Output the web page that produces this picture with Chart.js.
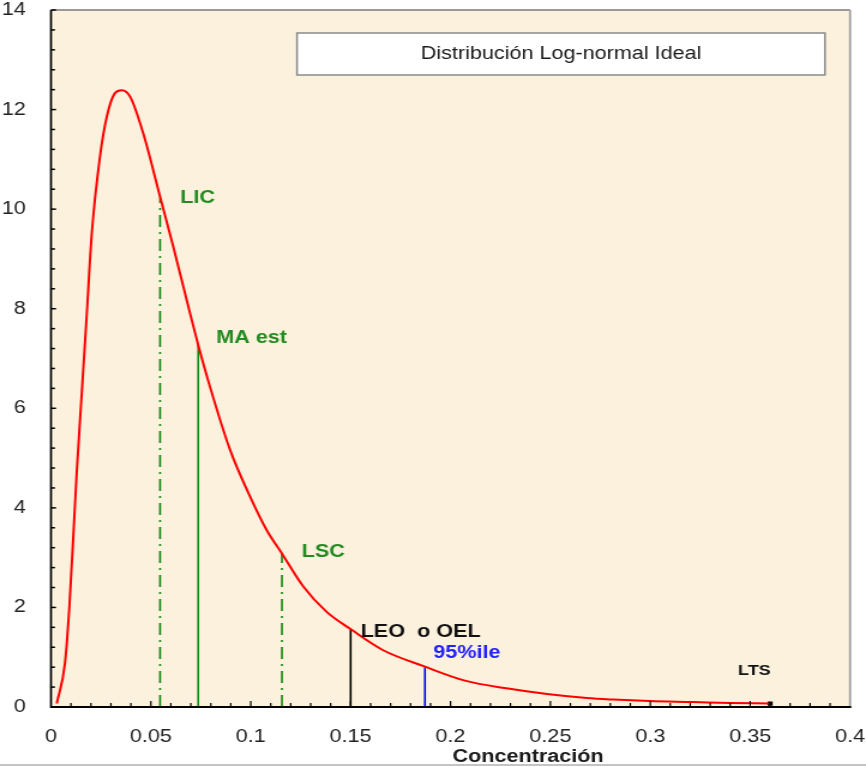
<!DOCTYPE html>
<html><head><meta charset="utf-8">
<script src="https://cdn.jsdelivr.net/npm/chart.js@4.4.1/dist/chart.umd.min.js"></script>
<style>
html,body{margin:0;padding:0;background:#fff;overflow:hidden;width:866px;height:767px;}
#wrap{position:absolute;left:0;top:0;width:722px;height:767px;transform:scaleX(1.19945);transform-origin:0 0;}
</style></head><body>
<div id="wrap"><canvas id="c"></canvas></div>
<script>
// ---- data ----
const curveX = [0.0029, 0.0070, 0.0092, 0.0112, 0.0129, 0.0154, 0.0179, 0.0204, 0.0245, 0.0279, 0.0320, 0.0354, 0.0396, 0.0462, 0.0546, 0.0612, 0.0696, 0.0737, 0.0796, 0.0896, 0.0996, 0.1080, 0.1155, 0.1263, 0.1380, 0.1505, 0.1663, 0.1872, 0.2072, 0.2288, 0.2483, 0.2683, 0.2813, 0.2998, 0.3214, 0.3400, 0.3594];
const curveY = [0.07, 0.88, 2.01, 3.45, 4.72, 6.30, 7.88, 9.50, 11.05, 11.85, 12.33, 12.39, 12.26, 11.52, 10.25, 9.25, 7.91, 7.27, 6.43, 5.17, 4.23, 3.55, 3.09, 2.42, 1.91, 1.55, 1.14, 0.81, 0.53, 0.37, 0.26, 0.18, 0.15, 0.12, 0.10, 0.08, 0.07];
const markerNames = ['LIC', 'MA est', 'LSC', 'LEO  o OEL', '95%ile'];
const markerX = [0.0546, 0.0737, 0.1156, 0.15, 0.1872];
const markerTop = [10.23, 7.27, 3.09, 1.55, 0.80];
const ltsName = 'LTS';
const ltsX = 0.36;
const ltsY = 0.07;
const xTickValues = [0, 0.05, 0.1, 0.15, 0.2, 0.25, 0.3, 0.35, 0.4];
const xTickLabels = ['0', '0.05', '0.1', '0.15', '0.2', '0.25', '0.3', '0.35', '0.4'];
const yTickValues = [0, 2, 4, 6, 8, 10, 12, 14];
const yTickLabels = ['0', '2', '4', '6', '8', '10', '12', '14'];
const legendText = 'Distribución Log-normal Ideal';
const xTitle = 'Concentración';

// ---- styles ----
const S = 866 / 722;
const FONT = "'Liberation Sans', Arial, sans-serif";
const cream = '#fbf1dc';
const lineGreen = '#0f870f';
const textGreen = '#228b22';
const markerStyles = [
  {color: lineGreen, dash: [12, 5, 2, 5], text: textGreen, dx: 16.7, dy: 0},
  {color: lineGreen, dash: [], text: textGreen, dx: 15, dy: -7},
  {color: lineGreen, dash: [12, 5, 2, 5], text: textGreen, dx: 16.5, dy: -1},
  {color: '#000000', dash: [], text: '#111111', dx: 8.3, dy: 2.5},
  {color: '#0000ff', dash: [], text: '#2222ff', dx: 7, dy: -14.5}
];

const datasets = [{
  label: 'curve',
  data: curveX.map((v, i) => ({x: v, y: curveY[i]})),
  showLine: true, borderColor: '#ff0000', borderWidth: 2, pointRadius: 0,
  cubicInterpolationMode: 'monotone'
}];
markerX.forEach((mx, i) => {
  datasets.push({
    label: markerNames[i],
    data: [{x: mx, y: 0}, {x: mx, y: markerTop[i]}],
    showLine: true, borderColor: markerStyles[i].color, borderWidth: 1.6,
    borderDash: markerStyles[i].dash, pointRadius: 0
  });
});
datasets.push({
  label: ltsName, data: [{x: ltsX, y: ltsY}], showLine: false,
  pointStyle: 'rect', pointRadius: 3, backgroundColor: '#000', borderColor: '#000', borderWidth: 0
});

const deco = {
  id: 'deco',
  beforeDraw(chart) {
    const {ctx, chartArea: a, width, height} = chart;
    ctx.save();
    ctx.fillStyle = '#fff'; ctx.fillRect(0, 0, width, height);
    ctx.fillStyle = cream; ctx.fillRect(a.left, a.top, a.right - a.left, a.bottom - a.top);
    ctx.restore();
  },
  afterDatasetsDraw(chart) {
    const {ctx, chartArea: a, scales: {x, y}, width} = chart;
    ctx.save();
    // frame top/right
    ctx.strokeStyle = '#9a9a9a';
    ctx.lineWidth = 2;
    ctx.beginPath(); ctx.moveTo(a.left, a.top); ctx.lineTo(a.right, a.top); ctx.stroke();
    ctx.lineWidth = 1.7;
    ctx.beginPath(); ctx.moveTo(a.right, a.top); ctx.lineTo(a.right, a.bottom); ctx.stroke();
    // axes
    ctx.strokeStyle = '#000';
    ctx.lineWidth = 2;
    ctx.beginPath(); ctx.moveTo(a.left, a.bottom); ctx.lineTo(a.right + 1, a.bottom); ctx.stroke();
    ctx.lineWidth = 1.7;
    ctx.beginPath(); ctx.moveTo(a.left, a.top); ctx.lineTo(a.left, a.bottom + 1); ctx.stroke();
    // x ticks (inside)
    ctx.lineWidth = 1.2;
    for (let i = 1; i < 40; i++) {
      const px = x.getPixelForValue(i * 0.01);
      const len = (i % 5 === 0) ? 6 : 4;
      ctx.beginPath(); ctx.moveTo(px, a.bottom); ctx.lineTo(px, a.bottom - len); ctx.stroke();
    }
    // y ticks (inside)
    ctx.lineWidth = 1.5;
    for (let i = 1; i <= 35; i++) {
      const py = y.getPixelForValue(i * 0.4);
      const len = (i % 5 === 0) ? 5 / S : 4 / S;
      ctx.beginPath(); ctx.moveTo(a.left, py); ctx.lineTo(a.left + len, py); ctx.stroke();
    }
    // legend box
    const bx1 = 247.6, bx2 = 687.8, by1 = 33, by2 = 75;
    ctx.fillStyle = '#fff';
    ctx.fillRect(bx1, by1, bx2 - bx1, by2 - by1);
    ctx.strokeStyle = '#8a8a8a'; ctx.lineWidth = 1.5;
    ctx.strokeRect(bx1, by1, bx2 - bx1, by2 - by1);
    ctx.fillStyle = '#1a1a1a';
    ctx.font = '18px ' + FONT;
    ctx.textAlign = 'center'; ctx.textBaseline = 'middle';
    ctx.fillText(legendText, (bx1 + bx2) / 2, 54);
    // marker labels
    ctx.textAlign = 'left';
    markerNames.forEach((name, i) => {
      const st = markerStyles[i];
      const px = x.getPixelForValue(markerX[i]);
      const py = y.getPixelForValue(markerTop[i]);
      ctx.fillStyle = st.text;
      ctx.font = 'bold 18px ' + FONT;
      ctx.fillText(name, px + st.dx, py + st.dy);
    });
    // LTS
    ctx.fillStyle = '#111';
    ctx.font = 'bold 15px ' + FONT;
    ctx.textAlign = 'right';
    ctx.fillText(ltsName, x.getPixelForValue(ltsX) + 0.5, y.getPixelForValue(ltsY) - 32.5);
    // bottom gray line
    ctx.strokeStyle = '#c4c4c4'; ctx.lineWidth = 2;
    ctx.beginPath(); ctx.moveTo(0, 765); ctx.lineTo(width, 765); ctx.stroke();
    // x axis title
    ctx.fillStyle = '#1a1a1a';
    ctx.font = 'bold 18px ' + FONT;
    ctx.textAlign = 'center';
    ctx.fillText(xTitle, a.left + 0.597 * (a.right - a.left), 757);
    ctx.restore();
  }
};

new Chart(document.getElementById('c'), {
  type: 'scatter',
  data: {datasets},
  options: {
    responsive: true, maintainAspectRatio: false, animation: false,
    layout: {padding: {top: 10, right: 13.3, left: 0, bottom: 0}},
    plugins: {legend: {display: false}, tooltip: {enabled: false}},
    scales: {
      x: {
        type: 'linear', min: 0, max: 0.4,
        afterBuildTicks: s => { s.ticks = xTickValues.map(v => ({value: v})); },
        afterFit: s => { s.height = 60; s.paddingLeft = 0; s.paddingRight = 0; },
        grid: {display: false}, border: {display: false},
        ticks: {autoSkip: false, maxRotation: 0, padding: 11, color: '#222',
          font: {family: 'Liberation Sans', size: 18},
          callback: (v, i) => xTickLabels[i]}
      },
      y: {
        type: 'linear', min: 0, max: 14,
        afterBuildTicks: s => { s.ticks = yTickValues.map(v => ({value: v})); },
        afterFit: s => { s.width = 42.5; s.paddingTop = 0; s.paddingBottom = 0; },
        grid: {display: false}, border: {display: false},
        ticks: {autoSkip: false, padding: 13, color: '#222',
          font: {family: 'Liberation Sans', size: 18},
          callback: (v, i) => yTickLabels[i]}
      }
    }
  },
  plugins: [deco]
});
</script>
</body></html>
